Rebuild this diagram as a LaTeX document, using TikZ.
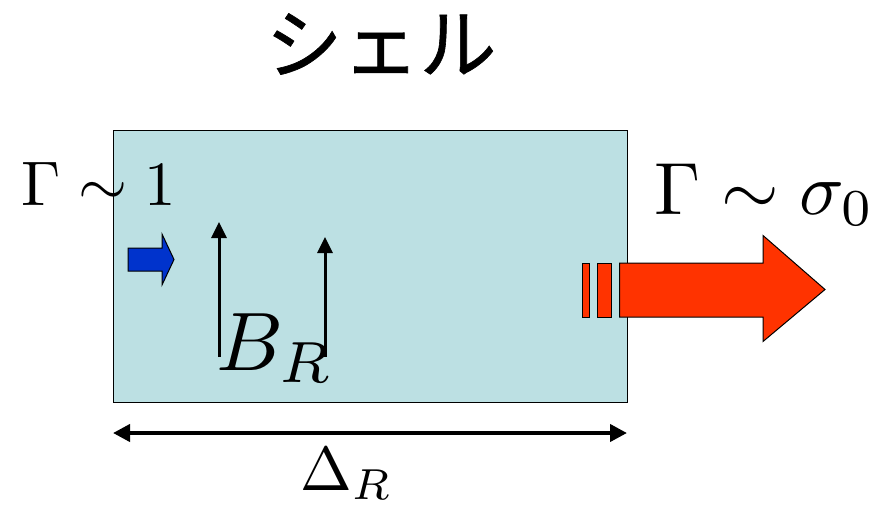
\documentclass[tikz,border=0pt]{standalone}
\usepackage{fontspec}
\newfontfamily\jp{Noto Sans CJK JP}[FakeBold=0.8]
\usetikzlibrary{arrows.meta}
\definecolor{shellfill}{HTML}{BCE0E3}
\definecolor{flowblue}{HTML}{0033CC}
\definecolor{flowred}{HTML}{FF3300}

\begin{document}
\begin{tikzpicture}[x=1pt,y=-1pt,
  bigtext/.style={inner sep=0pt,anchor=base west},
  fieldline/.style={line width=3pt,-{Triangle[length=16pt,width=15pt]}},
  fatarrow/.style={draw=black,line width=1pt,line join=miter}]
  \useasboundingbox (0,0) rectangle (880,506);
  % the shell
  \node[draw=black,line width=1pt,fill=shellfill,minimum width=514pt,minimum height=272pt,inner sep=0pt,anchor=north west] (shell) at (113,130) {};
  \node[inner sep=0pt] (title) at (381,44) {\jp\fontsize{77}{90}\selectfont シェル};
  % Lorentz factors
  \node[bigtext] (gin) at (21,205) {\scalebox{6.3}{$\Gamma\sim1$}};
  \node[bigtext] (gout) at (654,214) {\scalebox{7.4}{$\Gamma\sim\sigma_0$}};
  % field lines
  \coordinate (b1s) at (219,357);
  \coordinate (b1e) at (219,222);
  \coordinate (b2s) at (325,357);
  \coordinate (b2e) at (325,237);
  \draw[fieldline] (b1s) -- (b1e);
  \draw[fieldline] (b2s) -- (b2e);
  \node[bigtext] (bfield) at (216,370) {\scalebox{8.3}{$B_R$}};
  % inflow (blue) and outflow (red)
  \fill[flowblue,fatarrow] (128,248) -- (162,248) -- (162,234) -- (174,259.5) -- (162,285) -- (162,271) -- (128,271) -- cycle;
  \fill[flowred,fatarrow] (582,263) rectangle (589,317);
  \fill[flowred,fatarrow] (597,263) rectangle (611.5,317);
  \fill[flowred,fatarrow] (619.5,263) -- (763,263) -- (763,235.5) -- (825,289.5) -- (763,341.5) -- (763,317) -- (619.5,317) -- cycle;
  % width
  \coordinate (wl) at (113,433);
  \coordinate (wr) at (627,433);
  \draw[line width=4pt,{Triangle[length=17pt,width=17pt]}-{Triangle[length=17pt,width=17pt]}] (wl) -- (wr);
  \node[bigtext] (delta) at (300,490) {\scalebox{6.2}{$\Delta_R$}};
\end{tikzpicture}
\end{document}
